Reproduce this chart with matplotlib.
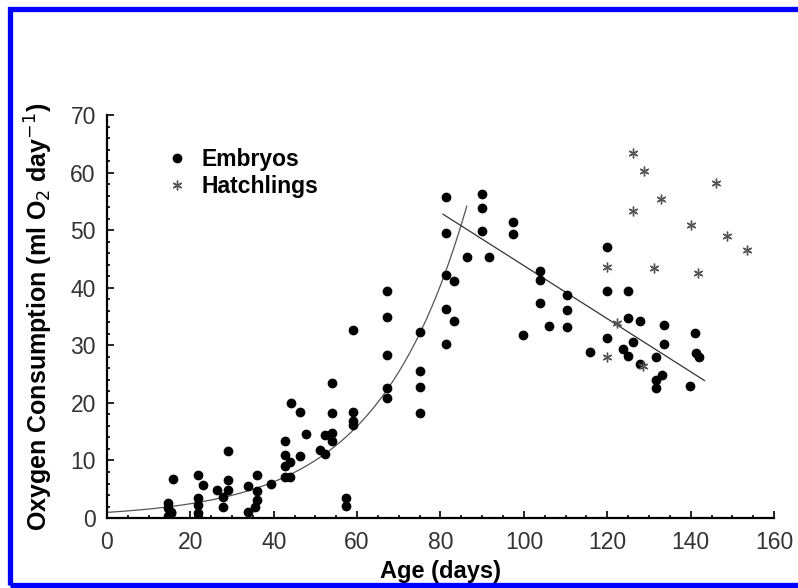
import numpy as np
import matplotlib
matplotlib.use('Agg')
import matplotlib.pyplot as plt
from matplotlib.patches import Rectangle
from matplotlib.ticker import MultipleLocator

# embryos: age (days) and O2 consumption
embryo_age = [14.6, 14.6, 14.6, 15.4, 15.4, 15.9,
              21.8, 21.8, 21.8, 21.8, 21.8, 23.0, 26.3, 27.9, 27.9,
              29.0, 29.0, 29.0, 33.9, 33.9, 35.5, 35.9, 35.9, 35.9, 39.3,
              42.7, 42.7, 42.7, 42.7, 43.9, 43.9, 44.1, 46.2, 46.2, 47.8,
              51.1, 52.3, 52.3, 53.9, 53.9, 53.9, 53.9, 57.4, 57.4,
              58.9, 59.1, 59.1, 59.1,
              67.1, 67.1, 67.1, 67.1, 67.1, 75.1, 75.1, 75.1, 75.1,
              81.3, 81.3, 81.3, 81.3, 81.3, 83.3, 83.3, 86.3,
              89.9, 89.9, 89.9, 91.7, 97.3, 97.3, 99.9,
              103.9, 103.9, 103.9, 106.1, 110.3, 110.3, 110.3, 115.9,
              119.9, 119.9, 119.9, 123.8, 125.0, 125.0, 125.0, 126.1,
              127.9, 127.9, 131.8, 131.8, 131.8, 133.1, 133.7, 133.7,
              139.9, 141.1, 141.3, 141.9]
embryo_o2 = [2.6, 1.7, 0.3, 0.9, 1.1, 6.7,
             7.5, 3.4, 2.3, 0.8, 0.0, 5.7, 4.9, 3.7, 2.0,
             11.7, 6.6, 4.9, 5.5, 1.1, 2.0, 7.5, 4.7, 3.1, 6.0,
             13.3, 11.0, 9.1, 7.2, 9.8, 7.2, 20.0, 18.4, 10.7, 14.6,
             11.8, 14.5, 11.1, 23.5, 18.2, 14.8, 13.3, 3.4, 2.1,
             32.6, 18.5, 16.8, 16.2,
             39.5, 35.0, 28.4, 22.6, 20.9, 32.3, 25.6, 22.8, 18.2,
             55.8, 49.6, 42.2, 36.4, 30.3, 41.2, 34.3, 45.3,
             56.3, 53.9, 49.8, 45.4, 51.4, 49.3, 31.8,
             42.9, 41.3, 37.3, 33.3, 38.7, 36.2, 33.2, 28.9,
             47.1, 39.5, 31.3, 29.4, 39.5, 34.7, 28.1, 30.6,
             34.3, 26.7, 28.0, 24.0, 22.6, 24.9, 33.5, 30.3,
             22.9, 32.2, 28.7, 28.0]

# hatchlings
hatch_age = [119.9, 119.9, 122.3, 126.1, 126.1, 128.5, 128.8, 131.1,
             132.9, 140.0, 141.7, 146.1, 148.7, 153.6]
hatch_o2 = [43.7, 28.0, 33.9, 63.4, 53.3, 26.5, 60.3, 43.4,
            55.5, 50.9, 42.5, 58.3, 49.0, 46.6]

# fitted curves
exp_a, exp_b, exp_end = 0.98, 0.0465, 86.3
lin_a, lin_b, lin_range = 89.96, -0.461, (80.6, 143.3)

plt.rcParams['font.family'] = ['Liberation Sans', 'DejaVu Sans']

fig = plt.figure(figsize=(7.98, 5.88), dpi=100)
ax = fig.add_axes([0.134, 0.119, 0.836, 0.685])

ax.plot(embryo_age, embryo_o2, 'o', color='black', markersize=6, label='Embryos', zorder=3)
ax.plot(hatch_age, hatch_o2, linestyle='none', marker=(6, 2, 0), color='#555555',
        markersize=7, markeredgewidth=1.0, label='Hatchlings', zorder=3)

xe = np.linspace(0, exp_end, 200)
ax.plot(xe, exp_a * np.exp(exp_b * xe), color='#555555', lw=0.9)
xl = np.array(lin_range)
ax.plot(xl, lin_a + lin_b * xl, color='#333333', lw=0.9)

ax.set_xlim(0, 160)
ax.set_ylim(0, 70)
ax.xaxis.set_major_locator(MultipleLocator(20))
ax.xaxis.set_minor_locator(MultipleLocator(5))
ax.yaxis.set_major_locator(MultipleLocator(10))
ax.yaxis.set_minor_locator(MultipleLocator(2))
ax.tick_params(which='both', direction='in', colors='black', labelcolor='#333333',
               labelsize=16.5, width=1.2)
ax.tick_params(which='major', length=5)
ax.tick_params(which='minor', length=2.5)
ax.tick_params(axis='x', pad=9)
ax.tick_params(axis='y', pad=8)
for side in ['top', 'right']:
    ax.spines[side].set_visible(False)
for side in ['left', 'bottom']:
    ax.spines[side].set_linewidth(1.6)

ax.set_xlabel('Age (days)', fontsize=17, fontweight='bold', labelpad=5)
ax.set_ylabel('Oxygen Consumption (ml O$_2$ day$^{-1}$)', fontsize=18,
              fontweight='bold', labelpad=11)

ax.legend(loc='upper left', bbox_to_anchor=(0.198, 0.768), bbox_transform=fig.transFigure,
          frameon=False, handlelength=0.7, handletextpad=0.7, borderpad=0,
          labelspacing=0.2, prop={'weight': 'bold', 'size': 16.5})

fig.patches.append(Rectangle((9.5 / 798, 3 / 588), 1.1, 1 - 12 / 588,
                             transform=fig.transFigure, fill=False,
                             edgecolor='#0000ff', linewidth=3.8, clip_on=False))

fig.savefig('out.png', dpi=100)
